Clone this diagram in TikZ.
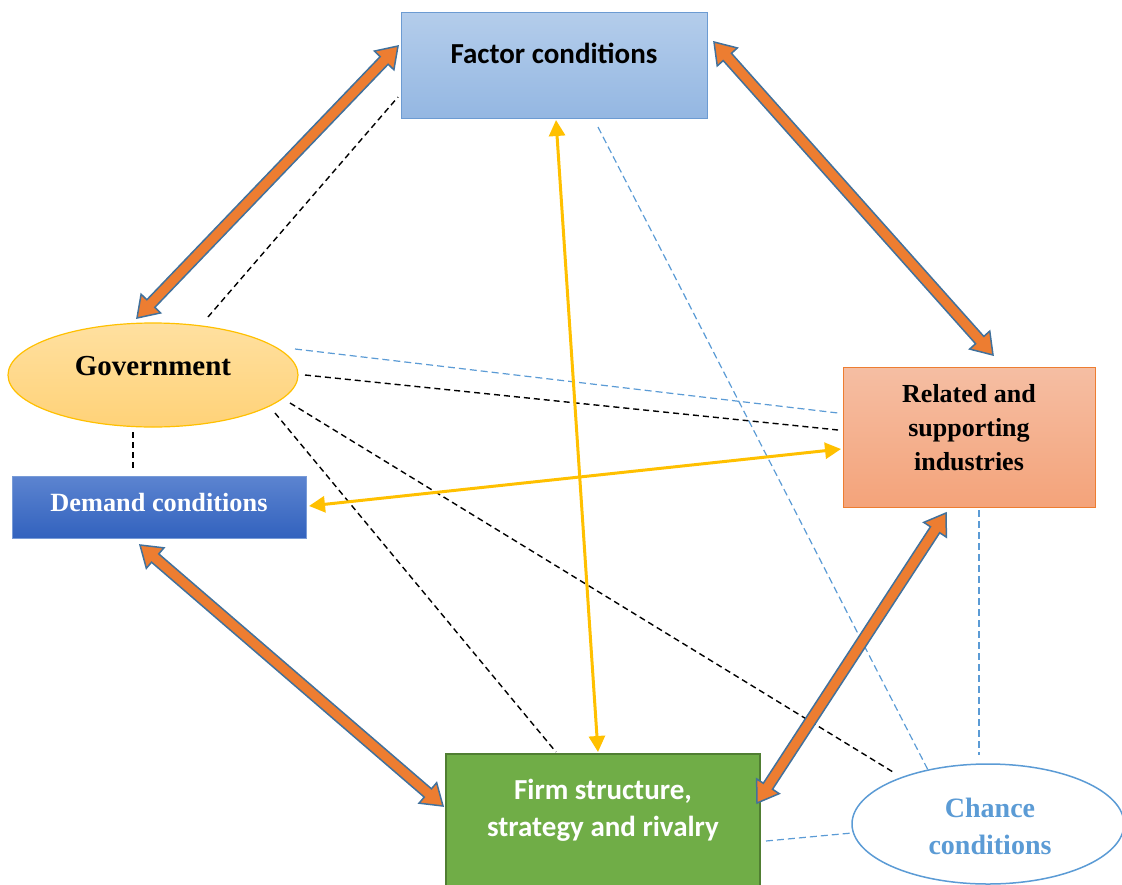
\documentclass[tikz,border=0pt]{standalone}
\usepackage{fontspec}
\setmainfont{Liberation Serif}
\newfontfamily\calibri{Carlito}
\usetikzlibrary{calc,arrows.meta,shapes.geometric}

\definecolor{blkorange}{HTML}{ED7D31}
\definecolor{blkedge}{HTML}{41719C}
\definecolor{dashblue}{HTML}{5B9BD5}
\definecolor{gold}{HTML}{FFC000}

% double-headed block arrow between two points
\newcommand\blockarrow[2]{%
  \path[blockarr] (#1)
    -- ($(#1)!20pt!(#2)!13.5pt!90:(#2)$)
    -- ($(#1)!20pt!(#2)!5.5pt!90:(#2)$)
    -- ($(#2)!20pt!(#1)!5.5pt!-90:(#1)$)
    -- ($(#2)!20pt!(#1)!13.5pt!-90:(#1)$)
    -- (#2)
    -- ($(#2)!20pt!(#1)!13.5pt!90:(#1)$)
    -- ($(#2)!20pt!(#1)!5.5pt!90:(#1)$)
    -- ($(#1)!20pt!(#2)!5.5pt!-90:(#2)$)
    -- ($(#1)!20pt!(#2)!13.5pt!-90:(#2)$)
    -- cycle;}

\tikzset{
  blockarr/.style={fill=blkorange, draw=blkedge, line width=1.5pt, line join=miter},
  blackdash/.style={draw=black, line width=1.4pt, dash pattern=on 6pt off 4pt},
  bluedash/.style={draw=dashblue, line width=1.2pt, dash pattern=on 7pt off 4pt},
  goldarrow/.style={draw=gold, line width=3pt, {Triangle[length=16pt,width=16pt]}-{Triangle[length=16pt,width=16pt]}},
  boxbase/.style={rectangle, inner sep=0pt},
}

\begin{document}
\begin{tikzpicture}[x=1pt,y=-1pt]
\useasboundingbox (0,0) rectangle (1122,884);

% ---- boxes and ellipses
\node[boxbase, minimum width=306pt, minimum height=106pt,
      top color={rgb,255:red,180;green,205;blue,235}, bottom color={rgb,255:red,148;green,183;blue,226},
      draw={rgb,255:red,108;green,155;blue,210}, line width=1pt] (factor) at (554,65) {};
\node[font=\calibri\bfseries\fontsize{29}{33}\selectfont] (factortext) at (554,53) {Factor conditions};

\node[ellipse, minimum width=290pt, minimum height=104pt, inner sep=0pt,
      top color={rgb,255:red,255;green,224;blue,160}, bottom color={rgb,255:red,255;green,210;blue,120},
      draw=gold, line width=1.2pt] (gov) at (153,375) {};
\node[font=\bfseries\fontsize{29}{33}\selectfont] (govtext) at (153,366) {Government};

\node[boxbase, minimum width=294pt, minimum height=62pt,
      top color={rgb,255:red,92;green,132;blue,208}, bottom color={rgb,255:red,50;green,98;blue,190},
      draw={rgb,255:red,120;green,155;blue,215}, line width=0.6pt] (demand) at (159,507) {};
\node[font=\bfseries\fontsize{26.3}{30}\selectfont, text=white] (demandtext) at (159,502) {Demand conditions};

\node[boxbase, minimum width=252pt, minimum height=140pt,
      top color={rgb,255:red,245;green,190;blue,163}, bottom color={rgb,255:red,244;green,163;blue,122},
      draw=blkorange, line width=1pt] (related) at (969,437) {};
\node[font=\bfseries\fontsize{26}{34}\selectfont, align=center] (relatedtext) at (969,428)
  {Related and\\supporting\\industries};

\node[boxbase, minimum width=314pt, minimum height=140pt, fill={rgb,255:red,112;green,173;blue,71},
      draw={rgb,255:red,80;green,126;blue,50}, line width=2pt] (firm) at (603,824) {};
\node[font=\calibri\bfseries\fontsize{29}{37}\selectfont, align=center, text=white] (firmtext) at (603,810)
  {Firm structure,\\strategy and rivalry};

\node[ellipse, minimum width=272pt, minimum height=120pt, inner sep=0pt, fill=white,
      draw=dashblue, line width=1.5pt] (chance) at (988,824) {};
\node[font=\bfseries\fontsize{28}{37}\selectfont, align=center, text=dashblue] (chancetext) at (990,826)
  {Chance\\conditions};

% ---- dashed links
\draw[blackdash] ([shift={(55,-58)}]gov.center) -- ([shift={(-156,32)}]factor.center);
\draw[blackdash] ([shift={(152,0)}]gov.center) -- ([shift={(-131,-7)}]related.center);
\draw[blackdash] ([shift={(137,28)}]gov.center) -- ([shift={(-95,-52)}]chance.center);
\draw[blackdash] ([shift={(122,38)}]gov.center) -- ([shift={(-47,-72)}]firm.center);
\draw[blackdash] ([shift={(-20,57)}]gov.center) -- ([shift={(-26,-37)}]demand.center);
\draw[bluedash] ([shift={(142,-26)}]gov.center) -- ([shift={(-131,-24)}]related.center);
\draw[bluedash] ([shift={(44,62)}]factor.center) -- ([shift={(-60,-54)}]chance.center);
\draw[bluedash] ([shift={(10,73)}]related.center) -- ([shift={(-9,-69)}]chance.center);
\draw[bluedash] ([shift={(163,17)}]firm.center) -- ([shift={(-136,9)}]chance.center);

% ---- thin two-way arrows
\draw[goldarrow] ([shift={(2,55)}]factor.center) -- ([shift={(-5,-72)}]firm.center);
\draw[goldarrow] ([shift={(150,-1)}]demand.center) -- ([shift={(-128,12)}]related.center);

% ---- thick two-way arrows
\blockarrow{[shift={(-156,-19)}]factor.center}{[shift={(-16,-57)}]gov.center}
\blockarrow{[shift={(160,-23)}]factor.center}{[shift={(24,-82)}]related.center}
\blockarrow{[shift={(-19,38)}]demand.center}{[shift={(-160,-18)}]firm.center}
\blockarrow{[shift={(-23,76)}]related.center}{[shift={(154,-21)}]firm.center}
\end{tikzpicture}
\end{document}
